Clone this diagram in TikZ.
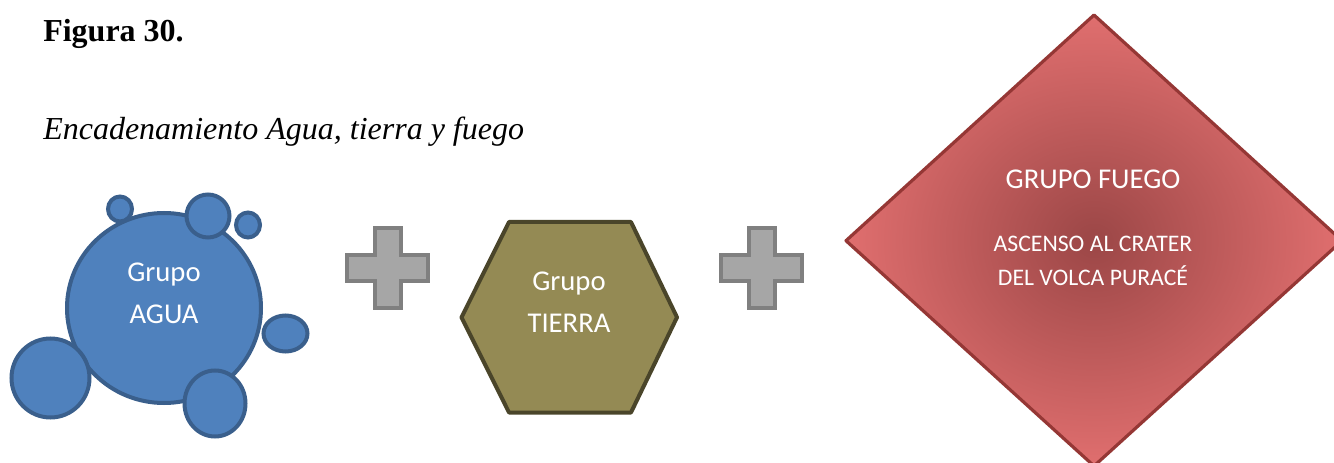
\documentclass[tikz,border=0pt]{standalone}
\usepackage{fontspec}
\setmainfont{Liberation Serif}
\newfontfamily\calib{Carlito}
\definecolor{aguaF}{HTML}{4F81BD}
\definecolor{aguaD}{HTML}{3A5F8C}
\definecolor{tierraF}{HTML}{948A54}
\definecolor{tierraD}{HTML}{4A452A}
\definecolor{plusF}{HTML}{A6A6A6}
\definecolor{plusD}{HTML}{808080}
\definecolor{fuegoD}{HTML}{953735}
\definecolor{fuegoIn}{HTML}{9E4848}
\definecolor{fuegoOut}{HTML}{EB7575}
\pgfdeclareradialshading{fuegoshade}{\pgfpoint{0bp}{0bp}}{color(0bp)=(fuegoIn); color(1bp)=(fuegoIn); color(29bp)=(fuegoOut); color(50bp)=(fuegoOut)}
\begin{document}
\begin{tikzpicture}[x=0.75pt,y=-0.75pt,
  bubble/.style={fill=aguaF,draw=aguaD,line width=3pt},
  plussign/.style={fill=plusF,draw=plusD,line width=3pt},
  hexa/.style={fill=tierraF,draw=tierraD,line width=3pt,line join=round},
  lbl/.style={inner sep=0pt,anchor=base,text=white},
  big/.style={font=\calib\fontsize{21.5}{26}\selectfont},
  small/.style={font=\calib\fontsize{17.8}{22}\selectfont}]
\useasboundingbox (0,0) rectangle (1334,463);
\clip (0,0) rectangle (1334,463);
% titles
\node[inner sep=0pt,anchor=base west,font=\bfseries\fontsize{24}{28}\selectfont] (fig) at (43,42) {Figura 30.};
\node[inner sep=0pt,anchor=base west,font=\itshape\fontsize{24}{28}\selectfont] (cap) at (43,140) {Encadenamiento Agua, tierra y fuego};
% agua blob
\draw[bubble] (164,308) ellipse [x radius=97, y radius=95];
\draw[bubble] (120,209) ellipse [x radius=12, y radius=12.5];
\draw[bubble] (208,216) circle [radius=21.5];
\draw[bubble] (248,225) ellipse [x radius=12, y radius=12.5];
\draw[bubble] (285.5,333.5) ellipse [x radius=22, y radius=18];
\draw[bubble] (50.5,378) ellipse [x radius=39, y radius=39.5];
\draw[bubble] (215,403.5) ellipse [x radius=30.5, y radius=33];
\node[lbl,big] (agua1) at (164,281.7) {Grupo};
\node[lbl,big] (agua2) at (164,323) {AGUA};
% plus signs
\begin{scope}[shift={(387.5,268)}]
\draw[plussign] (-13,-40) -- (13,-40) -- (13,-13) -- (40.5,-13) -- (40.5,13) -- (13,13) -- (13,40) -- (-13,40) -- (-13,13) -- (-40.5,13) -- (-40.5,-13) -- (-13,-13) -- cycle;
\end{scope}
\begin{scope}[shift={(761.7,268)}]
\draw[plussign] (-13,-40) -- (13,-40) -- (13,-13) -- (40.5,-13) -- (40.5,13) -- (13,13) -- (13,40) -- (-13,40) -- (-13,13) -- (-40.5,13) -- (-40.5,-13) -- (-13,-13) -- cycle;
\end{scope}
% tierra hexagon
\draw[hexa] (509,222) -- (631,222) -- (677,317.3) -- (631,412.5) -- (509,412.5) -- (461.5,317.3) -- cycle;
\node[lbl,big] (tierra1) at (569,290.7) {Grupo};
\node[lbl,big] (tierra2) at (569,332.7) {TIERRA};
% fuego diamond
\path[shading=fuegoshade] (1094,15) -- (1342,240.7) -- (1094,466) -- (846,240.7) -- cycle;
\draw[draw=fuegoD,line width=2.4pt,line join=round] (1094,15) -- (1342,240.7) -- (1094,466) -- (846,240.7) -- cycle;
\node[lbl,big] (fuego1) at (1093,188.3) {GRUPO FUEGO};
\node[lbl,small] (fuego2) at (1093,251.7) {ASCENSO AL CRATER};
\node[lbl,small] (fuego3) at (1093,285) {DEL VOLCA PURACÉ};
\end{tikzpicture}
\end{document}
